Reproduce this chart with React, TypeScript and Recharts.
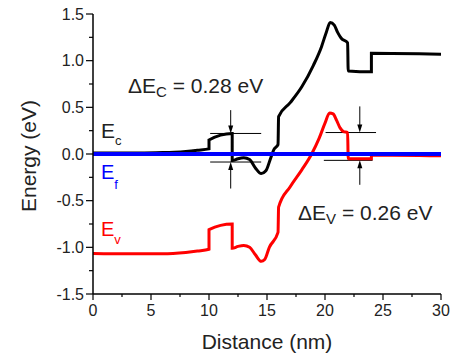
import { Line, LineChart, ReferenceLine, XAxis, YAxis } from 'recharts'

// band diagram: distance (nm) -> energy (eV)
const ecDistance = [0, 2, 4, 6, 7, 8, 9, 10, 10, 12, 12, 12.5, 13, 13.5, 14, 14.5, 14.9, 15.3, 15.6, 15.95, 16, 17, 18, 19, 19.7, 20.1, 20.45, 20.8, 21.1, 21.4, 21.95, 22, 24, 24, 30]
const ecEnergy = [0.01, 0.01, 0.01, 0.015, 0.02, 0.028, 0.04, 0.055, 0.15, 0.22, -0.07, -0.05, -0.04, -0.06, -0.15, -0.21, -0.18, -0.05, 0.05, 0.1, 0.4, 0.55, 0.72, 0.95, 1.15, 1.3, 1.41, 1.38, 1.3, 1.24, 1.19, 0.89, 0.88, 1.08, 1.07]

const evDistance = [0, 3, 6, 8, 9, 10, 10, 12, 12, 12.5, 13, 13.5, 14, 14.5, 14.8, 15.2, 15.95, 16, 17, 18, 18.85, 19.5, 20, 20.4, 20.7, 21, 21.3, 21.6, 21.95, 22, 24, 24, 30]
const evEnergy = [-1.065, -1.07, -1.07, -1.055, -1.04, -1.02, -0.81, -0.75, -1.01, -0.99, -0.98, -1.0, -1.08, -1.15, -1.13, -1.0, -0.84, -0.57, -0.35, -0.17, 0, 0.17, 0.33, 0.44, 0.43, 0.36, 0.28, 0.24, 0.23, -0.05, -0.05, -0.01, -0.02]

const efDistance = [0, 30]
const efEnergy = [0, 0]

const xTicks = [0, 2.5, 5, 7.5, 10, 12.5, 15, 17.5, 20, 22.5, 25, 27.5, 30]
const yTicks = [-1.5, -1.25, -1, -0.75, -0.5, -0.25, 0, 0.25, 0.5, 0.75, 1, 1.25, 1.5]

// offset guides: [x1, x2, y]
const guides = [
  [10.1, 14.5, 0.22],
  [10.1, 14.5, -0.086],
  [20.05, 24.4, 0.23],
  [19.9, 24.1, -0.068],
]
// arrows: [x, from, to]
const arrows = [
  [11.87, 0.47, 0.22],
  [11.87, -0.37, -0.086],
  [23, 0.51, 0.23],
  [23, -0.33, -0.068],
]

const zip = (xs: number[], ys: number[]) => xs.map((x, i) => ({ x, y: ys[i] }))
const ecData = zip(ecDistance, ecEnergy)
const evData = zip(evDistance, evEnergy)
const efData = zip(efDistance, efEnergy)

const FONT = '"Liberation Sans", Arial, sans-serif'
const INK = '#222'

function XTick(props: any) {
  const { x, y, payload } = props
  const major = payload.value % 5 === 0
  return (
    <g>
      <line x1={x} x2={x} y1={y} y2={y + (major ? 6 : 3)} stroke="#000" strokeWidth={1.2} />
      {major && (
        <text x={x} y={y + 22} textAnchor="middle" fontSize={16} fill={INK} fontFamily={FONT}>
          {payload.value}
        </text>
      )}
    </g>
  )
}

function YTick(props: any) {
  const { x, y, payload } = props
  const major = Math.abs(payload.value * 2 - Math.round(payload.value * 2)) < 1e-6
  return (
    <g>
      <line x1={x - (major ? 7 : 4)} x2={x} y1={y} y2={y} stroke="#000" strokeWidth={1.2} />
      {major && (
        <text x={x - 9} y={y + 5.5} textAnchor="end" fontSize={16} fill={INK} fontFamily={FONT}>
          {payload.value.toFixed(1)}
        </text>
      )}
    </g>
  )
}

function Arrow(props: any) {
  const { x1, y1, x2, y2 } = props
  const dir = y2 > y1 ? 1 : -1
  return (
    <g>
      <line x1={x1} y1={y1} x2={x2} y2={y2 - dir * 6} stroke="#000" strokeWidth={1} />
      <polygon points={`${x2},${y2} ${x2 - 2.5},${y2 - dir * 8} ${x2 + 2.5},${y2 - dir * 8}`} fill="#000" />
    </g>
  )
}

export default function App() {
  return (
    <div style={{ position: 'absolute', left: 0, top: 0, width: 452, height: 356, background: '#fff' }}>
      <LineChart width={452} height={356} margin={{ top: 14, right: 11, bottom: 32, left: 33 }}>
        <XAxis
          dataKey="x"
          type="number"
          domain={[0, 30]}
          ticks={xTicks}
          interval={0}
          height={30}
          tickSize={0}
          tickMargin={0}
          tickLine={false}
          tick={<XTick />}
          axisLine={{ stroke: '#000', strokeWidth: 1.5 }}
          allowDataOverflow
        />
        <YAxis
          type="number"
          domain={[-1.5, 1.5]}
          ticks={yTicks}
          interval={0}
          width={60}
          tickSize={0}
          tickMargin={0}
          tickLine={false}
          tick={<YTick />}
          axisLine={{ stroke: '#000', strokeWidth: 1.5 }}
          allowDataOverflow
        />
        {guides.map(([a, b, y], i) => (
          <ReferenceLine key={`g${i}`} segment={[{ x: a, y }, { x: b, y }]} stroke="#000" strokeWidth={1} />
        ))}
        {arrows.map(([x, from, to], i) => (
          <ReferenceLine key={`a${i}`} segment={[{ x, y: from }, { x, y: to }]} shape={<Arrow />} />
        ))}
        <Line data={ecData} dataKey="y" type="monotoneX" stroke="#000" strokeWidth={3} dot={false} isAnimationActive={false} />
        <Line data={evData} dataKey="y" type="monotoneX" stroke="#ff0000" strokeWidth={3} dot={false} isAnimationActive={false} />
        <Line data={efData} dataKey="y" type="linear" stroke="#0000ff" strokeWidth={4} dot={false} isAnimationActive={false} />
      </LineChart>
      <svg width={452} height={356} style={{ position: 'absolute', left: 0, top: 0, pointerEvents: 'none' }} fontFamily={FONT}>
        <text x={267} y={349} textAnchor="middle" fontSize={21} fill={INK}>Distance (nm)</text>
        <text transform="translate(36,156) rotate(-90)" textAnchor="middle" fontSize={21} fill={INK}>Energy (eV)</text>
        <text x={128} y={93} fontSize={21} fill={INK}>
          ΔE<tspan fontSize={15} dy={4}>C</tspan><tspan dy={-4}> = 0.28 eV</tspan>
        </text>
        <text x={298} y={220} fontSize={21} fill={INK}>
          ΔE<tspan fontSize={15} dy={4}>V</tspan><tspan dy={-4}> = 0.26 eV</tspan>
        </text>
        <text x={101} y={137.5} fontSize={21} fill={INK}>
          E<tspan fontSize={13} dy={7}>c</tspan>
        </text>
        <text x={101} y={178.5} fontSize={20} fill="#0000ff">
          E<tspan fontSize={13} dy={10}>f</tspan>
        </text>
        <text x={101} y={235.7} fontSize={20} fill="#ff0000">
          E<tspan fontSize={13} dy={8}>v</tspan>
        </text>
      </svg>
    </div>
  )
}
